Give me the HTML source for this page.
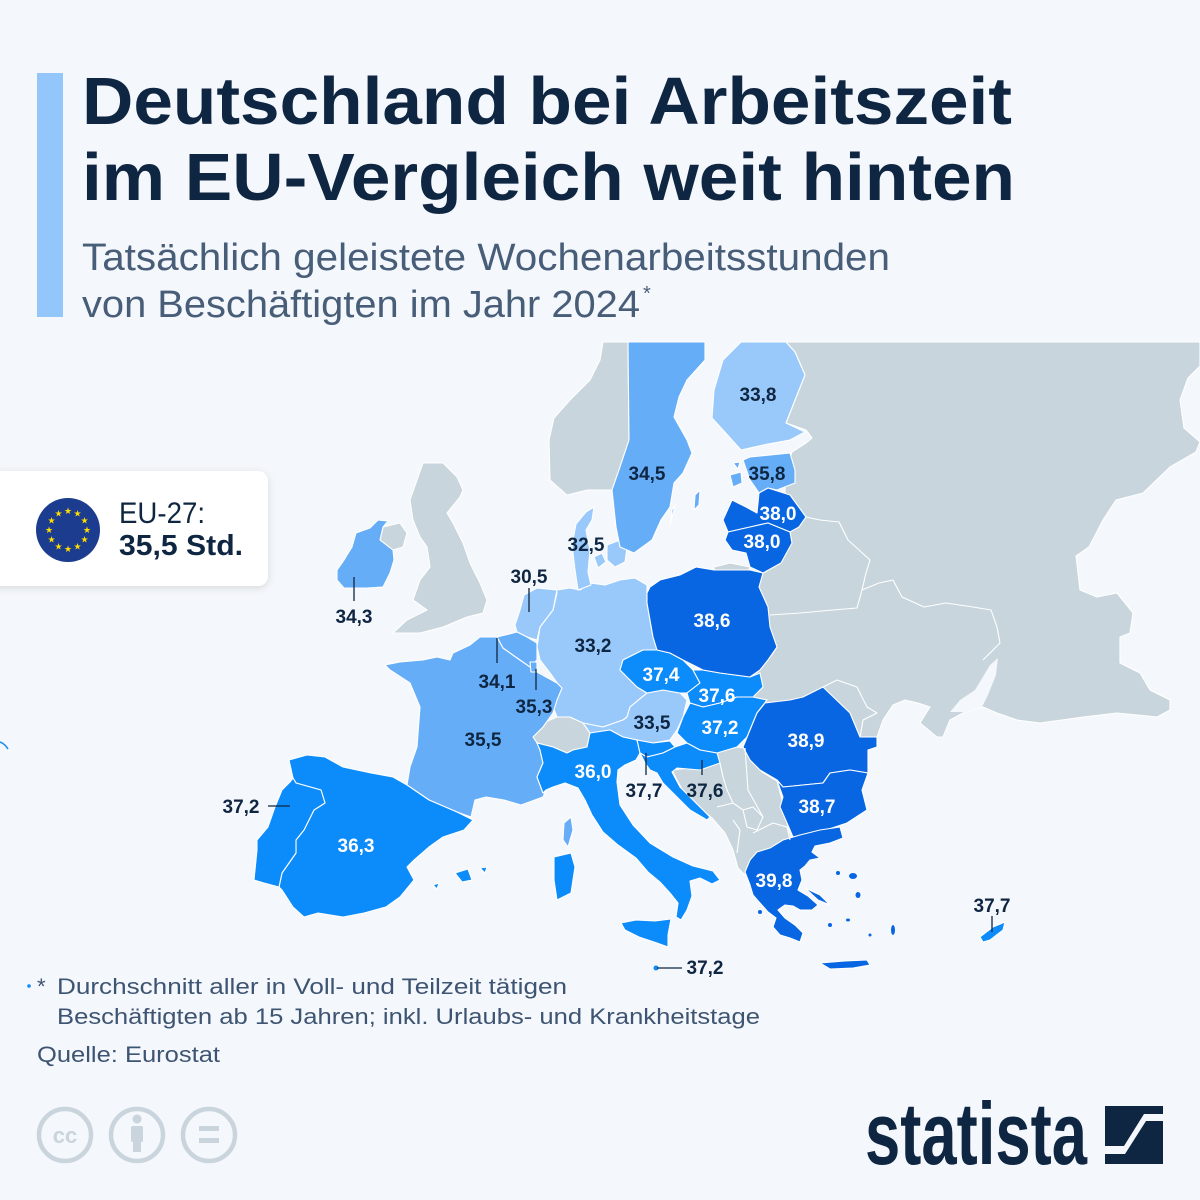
<!DOCTYPE html>
<html><head><meta charset="utf-8"><style>
html,body{margin:0;padding:0;background:#f4f7fb;}
svg{display:block;}
</style></head><body>
<svg width="1200" height="1200" viewBox="0 0 1200 1200" xmlns="http://www.w3.org/2000/svg" font-family="'Liberation Sans', sans-serif">
<rect width="1200" height="1200" fill="#f4f7fb"/>
<!-- accent bar -->
<rect x="37" y="73" width="26" height="244" fill="#93c6fa"/>
<!-- title -->
<text x="82" y="124" font-size="67" font-weight="bold" fill="#0f2642" textLength="930" lengthAdjust="spacingAndGlyphs">Deutschland bei Arbeitszeit</text>
<text x="82" y="200" font-size="67" font-weight="bold" fill="#0f2642" textLength="933" lengthAdjust="spacingAndGlyphs">im EU-Vergleich weit hinten</text>
<text x="82" y="270" font-size="38" fill="#475d78" textLength="808" lengthAdjust="spacingAndGlyphs">Tatsächlich geleistete Wochenarbeitsstunden</text>
<text x="82" y="317" font-size="38" fill="#475d78" textLength="558" lengthAdjust="spacingAndGlyphs">von Beschäftigten im Jahr 2024</text>
<text x="643" y="300" font-size="20" fill="#475d78">*</text>

<!-- MAP -->
<g stroke="#ffffff" stroke-width="1.1" stroke-linejoin="round">
<!-- big east gray -->
<polygon fill="#c8d5dc" points="786,342 1200,342 1200,366 1188,378 1180,400 1184,428 1200,442 1196,452 1170,467 1143,493 1116,500 1103,520 1089,547 1076,556 1080,590 1097,597 1117,593 1133,613 1130,633 1120,637 1120,663 1140,673 1150,690 1170,700 1170,710 1157,717 1117,713 1083,717 1040,723 1017,720 997,713 983,707 965,712 950,720 943,737 937,737 920,723 930,707 918,703 905,700 893,705 883,720 877,737 860,737 800,740 760,740 745,720 745,690 745,665 750,580 770,540 785,510 785,470 792,452 806,443 812,438 806,430 786,423 795,400 805,375 795,352"/>
<!-- Azov -->
<polygon fill="#f4f7fb" stroke="none" points="950,712 960,700 975,690 990,665 998,658 996,675 988,695 982,707 965,712"/>
<!-- Balkans gray -->
<polygon fill="#c8d5dc" points="715,752 737,747 745,748 752,762 762,772 777,781 782,800 787,823 792,840 780,851 758,853 750,865 745,875 738,868 733,850 725,833 712,818 700,808 685,795 676,778 672,770 690,768 705,768"/>
<!-- Norway -->
<polygon fill="#c8d5dc" points="603,342 628,342 629,440 620,467 612,490 600,490 587,490 567,495 550,480 549,440 554,418 570,400 590,380 600,360"/>
<!-- UK -->
<polygon fill="#c8d5dc" points="423,463 443,463 457,477 463,490 460,497 447,513 453,523 463,543 470,563 480,583 487,600 483,613 467,617 443,627 420,633 393,633 407,620 427,610 413,600 420,580 430,567 427,547 420,537 413,520 410,500 417,480"/>
<polygon fill="#c8d5dc" points="383,527 400,523 407,533 403,547 393,550 380,540"/>
<!-- Switzerland -->
<polygon fill="#c8d5dc" points="533,737 543,723 557,717 570,717 583,723 590,733 587,747 573,750 567,753 553,747 537,743"/>
<!-- Kaliningrad -->
<polygon fill="#c8d5dc" points="714,567 730,563 750,567 748,572 714,571"/>

<!-- C1 lightest -->
<polygon fill="#99c9fa" points="741,342 786,342 795,352 805,375 795,400 786,423 805,432 790,440 768,444 741,450 732,440 712,418 714,390 723,360"/>
<polygon fill="#99c9fa" points="545,592 557,590 570,588 580,590 590,583 605,585 620,580 635,578 647,585 647,603 653,637 657,650 643,650 623,660 620,670 637,687 647,693 630,707 627,717 623,720 603,727 583,723 570,717 557,717 553,707 560,687 550,673 540,660 537,647 540,627 553,610 557,593"/>
<polygon fill="#99c9fa" points="515,625 520,610 524,595 537,588 557,590 553,610 540,627 537,640 527,637 517,632"/>
<polygon fill="#99c9fa" points="576,524 586,512 594,507 592,520 586,530 590,550 588,572 591,585 578,590 575,570 572,545"/>
<polygon fill="#99c9fa" points="607,545 620,540 627,548 625,562 615,567 607,560"/>
<polygon fill="#99c9fa" points="594,557 602,553 606,562 598,568"/>
<polygon fill="#99c9fa" points="583,723 603,727 623,720 627,717 630,707 647,693 663,690 680,693 687,700 683,717 677,730 670,740 653,743 637,740 623,737 610,730 590,733"/>

<!-- C2 -->
<polygon fill="#66adf7" points="628,342 705,342 705,360 687,380 679,397 674,417 687,440 692,453 683,473 674,483 670,507 661,520 652,540 634,553 620,547 616,527 612,490 620,467 629,440"/>
<polygon fill="#66adf7" points="695,495 700,490 699,505 694,510"/>
<polygon fill="#66adf7" points="672,510 675,505 670,525"/>
<polygon fill="#66adf7" points="743,460 750,457 790,453 795,470 795,483 777,490 768,488 759,493 750,480"/>
<polygon fill="#66adf7" points="730,475 741,472 742,483 733,487"/>
<polygon fill="#66adf7" points="733,463 740,462 738,469"/>
<polygon fill="#66adf7" points="356,533 370,528 378,520 388,521 383,527 380,540 393,550 394,560 390,573 383,587 367,588 344,588 337,580 337,570 344,560 352,547"/>
<polygon fill="#66adf7" points="480,637 497,637 503,648 520,660 531,667 537,672 557,683 562,688 557,700 553,713 543,727 533,737 537,743 540,750 543,763 537,777 543,793 546,790 543,797 521,805 504,800 486,797 475,800 471,817 457,812 429,800 407,785 410,767 417,747 420,707 410,683 390,670 385,665 400,662 423,660 437,657 450,660 453,653 470,645"/>
<polygon fill="#66adf7" points="497,637 517,632 527,637 537,643 537,660 530,667 520,660 503,648"/>
<polygon fill="#66adf7" points="530,662 537,662 537,672 531,672"/>
<polygon fill="#66adf7" points="564,823 571,817 573,830 568,847 563,840"/>

<!-- C3 -->
<polygon fill="#0c8bfa" points="289,760 307,755 325,757 343,767 371,773 393,777 407,785 429,800 457,812 473,820 464,830 443,837 429,847 414,860 407,867 414,880 400,897 386,907 364,913 343,917 318,913 304,917 293,907 282,890 279,887 282,873 296,853 296,840 304,830 314,810 325,803 321,790 296,783 293,778"/>
<polygon fill="#0c8bfa" points="293,778 296,783 321,790 325,803 314,810 304,830 296,840 296,853 282,873 279,887 264,883 254,880 257,850 257,840 268,827 275,807 282,790 290,782"/>
<polygon fill="#0c8bfa" points="537,777 543,763 540,750 537,743 553,747 567,753 573,750 587,747 590,733 610,730 623,737 637,740 640,753 636,760 625,765 618,770 617,782 620,805 633,825 650,843 673,857 693,866 713,871 720,880 712,884 700,878 690,881 692,896 687,910 681,920 676,917 678,903 670,893 660,882 648,872 636,858 618,845 603,832 592,815 585,800 578,788 565,783 553,787 546,790 543,793"/>
<polygon fill="#0c8bfa" points="621,923 636,920 655,921 671,919 668,935 668,947 657,943 639,937 625,930"/>
<polygon fill="#0c8bfa" points="554,857 571,853 575,867 573,880 571,893 557,900 554,880"/>
<polygon fill="#0c8bfa" points="455,873 468,869 472,880 462,882"/>
<polygon fill="#0c8bfa" points="480,868 487,867 485,873"/>
<polygon fill="#0c8bfa" points="433,885 439,883 437,889"/>
<polygon fill="#0c8bfa" points="623,660 643,650 657,650 670,653 683,660 693,670 700,683 687,693 680,693 663,690 647,693 637,687 620,670"/>
<polygon fill="#0c8bfa" points="693,670 703,670 720,673 750,677 760,673 763,687 753,697 737,697 720,703 703,707 690,703 687,693 700,683"/>
<polygon fill="#0c8bfa" points="690,703 703,707 720,703 737,697 753,697 767,700 757,713 747,737 737,747 717,753 700,750 687,743 677,733 683,717"/>
<polygon fill="#0c8bfa" points="637,740 653,743 670,741 675,747 663,753 647,757 640,753"/>
<polygon fill="#0c8bfa" points="640,753 647,757 663,753 675,747 687,743 700,750 717,753 720,763 700,770 677,768 672,772 680,787 700,807 710,817 707,820 690,810 677,797 663,783 657,773 650,770 645,763"/>
<polygon fill="#0c8bfa" points="980,937 993,927 1005,922 1003,930 990,940 983,942"/>
<circle cx="656" cy="968" r="2.5" fill="#0c8bfa" stroke="none"/>

<!-- C4 -->
<polygon fill="#0866e2" points="647,593 650,587 660,580 680,575 696,567 714,570 750,570 763,573 759,587 768,607 770,627 777,647 768,660 760,670 750,677 720,673 703,670 683,660 670,653 657,650 653,637 647,603"/>
<polygon fill="#0866e2" points="759,493 768,488 790,495 806,517 799,527 790,532 768,523 750,527 728,532 723,520 732,500 746,507 757,513"/>
<polygon fill="#0866e2" points="728,532 750,527 768,523 790,532 792,543 781,563 763,573 750,567 746,553 732,550 725,540"/>
<polygon fill="#0866e2" points="757,713 765,703 790,700 803,697 823,687 850,713 860,737 877,737 877,747 868,750 868,773 850,770 830,773 823,783 783,787 777,780 760,770 750,760 743,747 750,730"/>
<polygon fill="#0866e2" points="777,780 783,787 823,783 830,773 850,770 868,773 862,790 867,810 847,823 817,833 793,837 787,823 780,807 783,797"/>
<polygon fill="#0866e2" points="745,872 750,860 757,852 770,848 783,840 800,835 820,830 840,827 843,838 830,843 815,846 812,852 820,858 810,860 805,866 800,870 802,880 798,890 808,896 818,905 812,910 800,910 793,906 785,905 778,910 785,918 795,925 803,933 800,942 790,938 780,935 773,927 776,918 768,912 760,903 753,895 750,885"/>
<polygon fill="#0866e2" points="805,888 820,895 830,905 818,900"/>
<polygon fill="#0866e2" points="820,963 845,961 867,960 870,965 853,968 830,969"/>
</g>
<g fill="#0866e2">
<ellipse cx="853" cy="876" rx="4" ry="3"/><ellipse cx="858" cy="895" rx="2.5" ry="3"/><ellipse cx="893" cy="930" rx="2" ry="5"/>
<ellipse cx="838" cy="873" rx="2" ry="2"/><ellipse cx="830" cy="925" rx="2" ry="2"/><ellipse cx="848" cy="920" rx="2" ry="1.5"/>
<ellipse cx="870" cy="935" rx="1.5" ry="1.5"/><ellipse cx="760" cy="912" rx="2" ry="2"/>
</g>
<path d="M0,742 Q5,744 8,749" stroke="#0c8bfa" stroke-width="1.5" fill="none"/>
<circle cx="29" cy="986" r="1.8" fill="#0c8bfa"/>

<!-- internal white borders -->
<g stroke="#ffffff" stroke-width="1.1" fill="none" stroke-linejoin="round">
<polyline points="806,517 820,520 839,522 848,540 870,560 866,573 862,590 879,583 893,580 902,597 924,607 946,603 973,607 991,610 997,627 1000,643 990,653 983,660"/>
<polyline points="770,615 800,613 833,610 857,608 862,590"/>
<polyline points="823,687 837,680 857,687 867,707 877,713 863,720 860,737"/>
<polyline points="720,763 723,777 727,790 733,803"/>
<polyline points="717,807 733,803 743,810 753,807 763,817 757,830 747,827 743,810"/>
<polyline points="733,820 740,830 737,853"/>
<polyline points="753,833 773,823 787,827 790,840"/>
<polyline points="745,748 748,790 763,817"/>
</g>

<!-- leader lines -->
<g stroke="#0f2642" stroke-width="1.3">
<line x1="354" y1="577" x2="354" y2="601"/>
<line x1="529" y1="588" x2="529" y2="612"/>
<line x1="497" y1="638" x2="497" y2="663"/>
<line x1="536" y1="669" x2="536" y2="690"/>
<line x1="646" y1="753" x2="646" y2="775"/>
<line x1="702" y1="760" x2="702" y2="775"/>
<line x1="268" y1="806" x2="290" y2="806"/>
<line x1="992" y1="916" x2="992" y2="932"/>
<line x1="657" y1="968" x2="682" y2="968"/>
</g>

<!-- labels -->
<g font-size="19" font-weight="bold" text-anchor="middle">
<g fill="#0f2642">
<text x="758" y="401">33,8</text>
<text x="647" y="480">34,5</text>
<text x="767" y="480">35,8</text>
<text x="586" y="551">32,5</text>
<text x="529" y="583">30,5</text>
<text x="354" y="623">34,3</text>
<text x="593" y="652">33,2</text>
<text x="497" y="688">34,1</text>
<text x="534" y="713">35,3</text>
<text x="652" y="729">33,5</text>
<text x="483" y="746">35,5</text>
<text x="644" y="797">37,7</text>
<text x="705" y="797">37,6</text>
<text x="241" y="813">37,2</text>
<text x="992" y="912">37,7</text>
<text x="705" y="974">37,2</text>
</g>
<g fill="#ffffff">
<text x="778" y="520">38,0</text>
<text x="762" y="548">38,0</text>
<text x="712" y="627">38,6</text>
<text x="661" y="681">37,4</text>
<text x="717" y="702">37,6</text>
<text x="720" y="734">37,2</text>
<text x="806" y="747">38,9</text>
<text x="593" y="778">36,0</text>
<text x="817" y="813">38,7</text>
<text x="356" y="852">36,3</text>
<text x="774" y="887">39,8</text>
</g>
</g>

<!-- EU box -->
<defs>
<filter id="sh" x="-20%" y="-20%" width="140%" height="150%">
<feDropShadow dx="0" dy="2" stdDeviation="4" flood-color="#000" flood-opacity="0.12"/>
</filter>
</defs>
<rect x="-12" y="471" width="280" height="115" rx="10" fill="#ffffff" filter="url(#sh)"/>
<circle cx="68" cy="530" r="32" fill="#1b3c8f"/>
<g fill="#ffdd00" font-family="'DejaVu Sans', sans-serif" font-size="9" text-anchor="middle">
<text x="68" y="514">★</text><text x="77.5" y="516.5">★</text><text x="84.5" y="523.5">★</text>
<text x="87" y="533">★</text><text x="84.5" y="542.5">★</text><text x="77.5" y="549.5">★</text>
<text x="68" y="552">★</text><text x="58.5" y="549.5">★</text><text x="51.5" y="542.5">★</text>
<text x="49" y="533">★</text><text x="51.5" y="523.5">★</text><text x="58.5" y="516.5">★</text>
</g>
<text x="119" y="523" font-size="30" fill="#0f2642" textLength="86" lengthAdjust="spacingAndGlyphs">EU-27:</text>
<text x="119" y="555" font-size="29" font-weight="bold" fill="#0f2642" textLength="124" lengthAdjust="spacingAndGlyphs">35,5 Std.</text>

<!-- footer -->
<g font-size="22" fill="#3d5472">
<text x="37" y="994">*</text>
<text x="57" y="994" textLength="510" lengthAdjust="spacingAndGlyphs">Durchschnitt aller in Voll- und Teilzeit tätigen</text>
<text x="57" y="1024" textLength="703" lengthAdjust="spacingAndGlyphs">Beschäftigten ab 15 Jahren; inkl. Urlaubs- und Krankheitstage</text>
<text x="37" y="1062" textLength="183" lengthAdjust="spacingAndGlyphs">Quelle: Eurostat</text>
</g>

<!-- CC icons -->
<g fill="none" stroke="#c9d4dc" stroke-width="4.5">
<circle cx="65" cy="1135" r="26"/>
<circle cx="137" cy="1135" r="26"/>
<circle cx="209" cy="1135" r="26"/>
</g>
<text x="65" y="1143" font-size="22" font-weight="bold" fill="#c9d4dc" text-anchor="middle">cc</text>
<circle cx="137" cy="1119" r="4.5" fill="#c9d4dc"/>
<rect x="131" y="1126" width="12" height="16" rx="2" fill="#c9d4dc"/>
<rect x="133" y="1140" width="8" height="12" fill="#c9d4dc"/>
<rect x="199" y="1126" width="20" height="5" fill="#c9d4dc"/>
<rect x="199" y="1138" width="20" height="5" fill="#c9d4dc"/>

<!-- statista logo -->
<text x="865" y="1164" font-size="88" font-weight="bold" fill="#0f2642" textLength="222" lengthAdjust="spacingAndGlyphs">statista</text>
<polygon fill="#0f2642" points="1105,1106 1163,1106 1163,1114 1144,1114 1124,1146 1105,1146"/>
<polygon fill="#0f2642" points="1163,1121 1163,1164 1105,1164 1105,1154 1125,1154 1146,1121"/>
</svg>
</body></html>
